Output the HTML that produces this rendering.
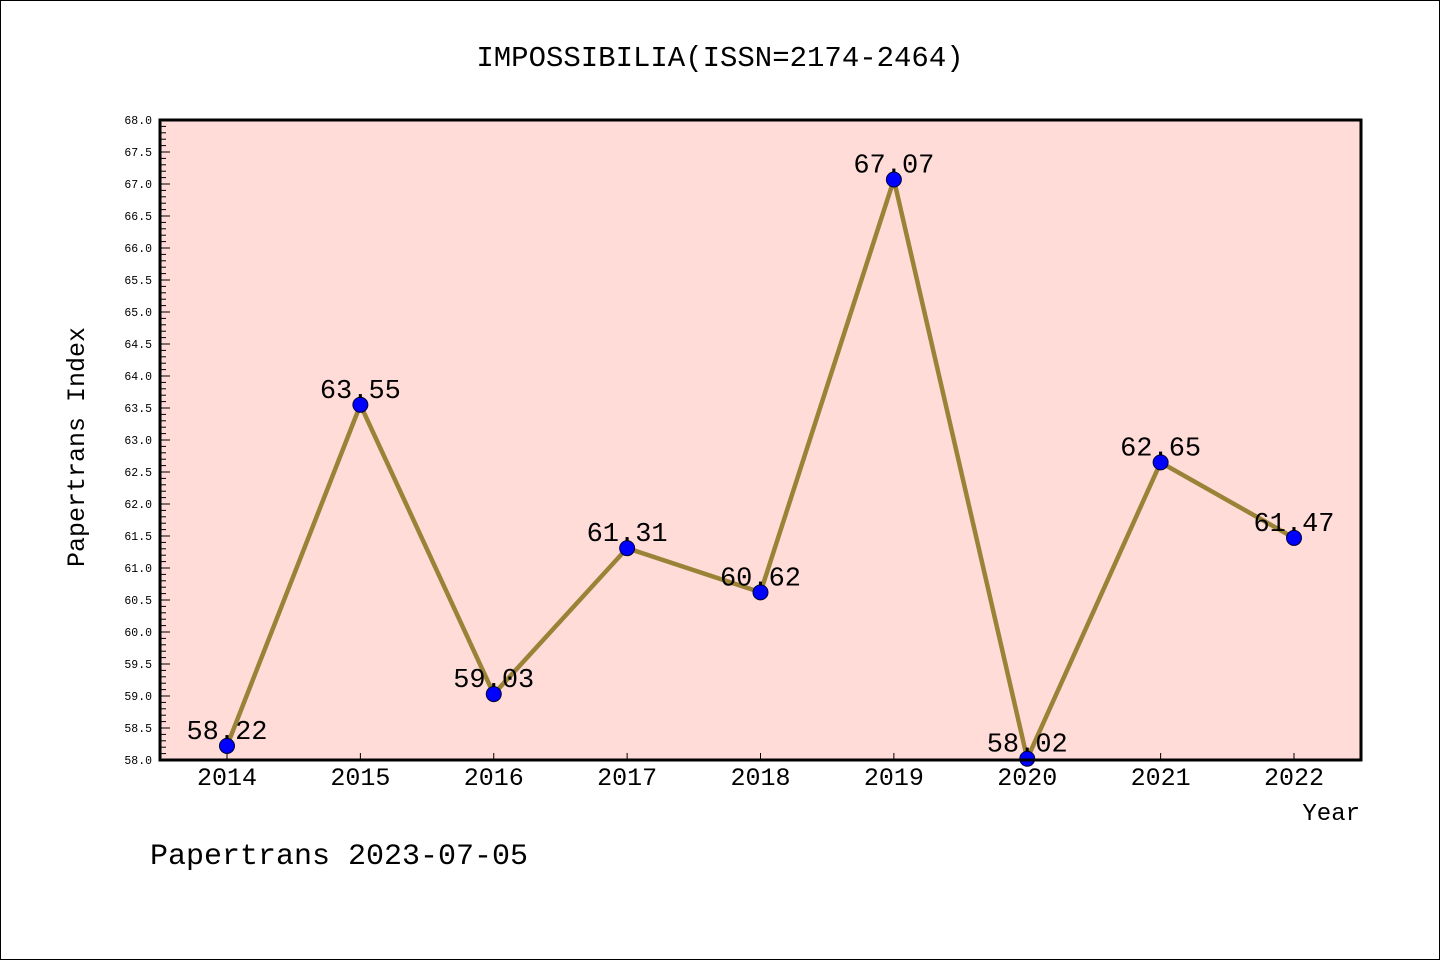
<!DOCTYPE html>
<html><head><meta charset="utf-8"><style>
body{margin:0;background:#fff}
svg{display:block}
text{font-family:"Liberation Mono","WenQuanYi Zen Hei",monospace}
</style></head><body>
<svg width="1440" height="960">
<rect x="0.5" y="0.5" width="1439" height="959" fill="#fff" stroke="#000"/>
<text x="720" y="66" text-anchor="middle" font-size="29">IMPOSSIBILIA(ISSN=2174-2464)</text>
<rect x="160" y="120" width="1201" height="640" fill="#ffdcd8"/>
<g id="yaxis"></g>
<g id="xaxis"></g>
<g id="series"></g>
<rect x="160" y="120" width="1201" height="640" fill="none" stroke="#000" stroke-width="3"/>
<text x="84" y="447" text-anchor="middle" font-size="25" transform="rotate(-90 84 447)">Papertrans Index</text>
<text x="1360" y="820" text-anchor="end" font-size="24">Year</text>
<text x="150" y="864" font-size="30">Papertrans 2023-07-05</text>
</svg>
<script>
const years=["2014","2015","2016","2017","2018","2019","2020","2021","2022"];
const values=[58.22,63.55,59.03,61.31,60.62,67.07,58.02,62.65,61.47];
const yMin=58,yMax=68;
const ns="http://www.w3.org/2000/svg";
function X(i){return 227+i*(1294-227)/(years.length-1);}
function Y(v){return 760-(v-yMin)/(yMax-yMin)*640;}
function mk(tag,attrs,parent){const e=document.createElementNS(ns,tag);for(const k in attrs)e.setAttribute(k,attrs[k]);parent.appendChild(e);return e;}
const ya=document.getElementById('yaxis'),xa=document.getElementById('xaxis'),sg=document.getElementById('series');
for(let k=0;k<=100;k++){const v=yMin+k*0.1;const y=Y(v);const major=k%5===0;
 const t=mk('line',{x1:160,x2:160+(major?10:6),y1:y,y2:y,stroke:'#000','stroke-width':1},ya);
 
 if(major){const l=mk('text',{x:152,y:y+4,'text-anchor':'end','font-size':11.5},ya);l.textContent=v.toFixed(1);
 }}
years.forEach((yr,i)=>{const x=X(i);
 const t=mk('line',{x1:x,x2:x,y1:760,y2:753,stroke:'#000','stroke-width':1},xa);
 
 const l=mk('text',{x:x,y:785,'text-anchor':'middle','font-size':25},xa);l.textContent=yr;
 });
const pts=values.map((v,i)=>X(i)+','+Y(v)).join(' ');
const pl=mk('polyline',{points:pts,fill:'none',stroke:'#9a8236','stroke-width':4.5,'stroke-linejoin':'miter'},sg);

values.forEach((v,i)=>{
 const c=mk('circle',{cx:X(i),cy:Y(v),r:7.5,fill:'#0000ff',stroke:'#000033','stroke-width':1},sg);
 
 const t=mk('text',{x:X(i),y:Y(v)-7,'text-anchor':'middle','font-size':27},sg);t.textContent=v.toFixed(2);
 });
</script>
</body></html>
